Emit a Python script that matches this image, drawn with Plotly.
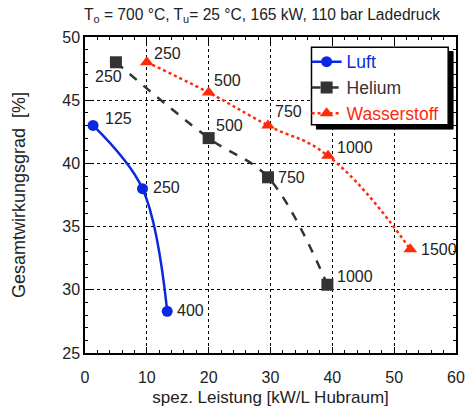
import plotly.graph_objects as go

# Data
luft_x = [1.3, 9.3, 13.3]
luft_y = [43.0, 38.0, 28.3]
luft_lbl = ["125", "250", "400"]

he_x = [5.0, 20.0, 29.6, 39.2]
he_y = [48.0, 42.0, 38.9, 30.4]
he_lbl = ["250", "500", "750", "1000"]

h2_x = [10.0, 20.0, 29.6, 39.3, 52.6]
h2_y = [48.0, 45.6, 43.0, 40.6, 33.2]
h2_lbl = ["250", "500", "750", "1000", "1500"]

BLUE = "#0a28e0"
GRAY = "#333333"
RED = "#ff2a0a"
FONT = "Liberation Sans, Arial, sans-serif"

# plot area in pixels
L, R, T, B = 85, 465, 37, 363
PW, PH = R - L, B - T

def px(xp):
    return (xp - L) / PW

def py(yp):
    return (B - yp) / PH

fig = go.Figure()
fig.add_trace(go.Scatter(x=luft_x, y=luft_y, mode="lines+markers",
                         name=f"<span style='color:{BLUE}'>Luft</span>",
                         line=dict(color=BLUE, width=2.5, shape="spline", smoothing=1.0),
                         marker=dict(symbol="circle", size=11, color=BLUE)))
fig.add_trace(go.Scatter(x=he_x, y=he_y, mode="lines+markers",
                         name=f"<span style='color:{GRAY}'>Helium</span>",
                         line=dict(color=GRAY, width=2.5, dash="dash", shape="spline", smoothing=1.0),
                         marker=dict(symbol="square", size=12, color=GRAY)))
fig.add_trace(go.Scatter(x=h2_x, y=h2_y, mode="lines+markers",
                         name=f"<span style='color:{RED}'>Wasserstoff</span>",
                         line=dict(color=RED, width=2.5, dash="dot", shape="spline", smoothing=1.3),
                         marker=dict(symbol="triangle-up", size=12, color=RED)))

# point labels
def add_labels(xs, ys, labels, offsets):
    for x, y, t, (dx, dy) in zip(xs, ys, labels, offsets):
        fig.add_annotation(x=x, y=y, text=t, showarrow=False, xanchor="left",
                           yanchor="middle", xshift=dx, yshift=dy,
                           font=dict(family=FONT, size=16, color="#222"))

add_labels(luft_x, luft_y, luft_lbl, [(10, 7), (8, 1), (8, 1)])
add_labels(he_x, he_y, he_lbl, [(-23, -14), (5, 13), (8, 0), (8, 8)])
add_labels(h2_x, h2_y, h2_lbl, [(5, 9), (3, 12), (5, 14), (7, 8), (9, 0)])

# legend drop shadow (below traces, outside the white box) and the box itself
fig.add_shape(type="rect", xref="paper", yref="paper",
              x0=px(322), x1=px(462), y0=py(132), y1=py(52),
              fillcolor="black", line=dict(color="black", width=1), layer="below")
fig.add_shape(type="rect", xref="paper", yref="paper",
              x0=px(317), x1=px(457), y0=py(127.5), y1=py(47.5),
              fillcolor="white", line=dict(color="black", width=1.5), layer="above")

fig.update_layout(
    width=476, height=415,
    margin=dict(l=L, r=476 - R, t=T, b=415 - B),
    paper_bgcolor="white", plot_bgcolor="white",
    font=dict(family=FONT, size=16, color="#222"),
    title=dict(text="T<sub>o</sub> = 700 °C, T<sub>u</sub>= 25 °C, 165 kW, 110 bar Ladedruck",
               x=262 / 476, xanchor="center", y=0.978, yanchor="top",
               font=dict(family=FONT, size=15.6, color="#222")),
    showlegend=True,
    legend=dict(x=px(312), y=py(44), xanchor="left", yanchor="top",
                bgcolor="rgba(255,255,255,0)", borderwidth=0,
                font=dict(family=FONT, size=17.5), itemwidth=30,
                tracegroupgap=0),
)

axis_common = dict(showline=True, linecolor="black", linewidth=1.5, mirror="ticks",
                   ticks="inside", ticklen=6, tickcolor="black",
                   showgrid=True, gridcolor="black", gridwidth=1, griddash="dot",
                   zeroline=False, tickfont=dict(family=FONT, size=16, color="#222"))

fig.update_xaxes(range=[0, 60], dtick=10, **axis_common, ticklabelstandoff=9,
                 minor=dict(dtick=2, ticks="inside", ticklen=3, tickcolor="black", showgrid=False),
                 title=dict(text="spez. Leistung [kW/L Hubraum]", standoff=6,
                            font=dict(family=FONT, size=17, color="#222")))
fig.update_yaxes(range=[25, 50], dtick=5, **axis_common,
                 minor=dict(dtick=1, ticks="inside", ticklen=3, tickcolor="black", showgrid=False),
                 title=dict(text="Gesamtwirkungsgrad  [%]", standoff=32,
                            font=dict(family=FONT, size=18, color="#222")))

fig.write_html("out.html")
